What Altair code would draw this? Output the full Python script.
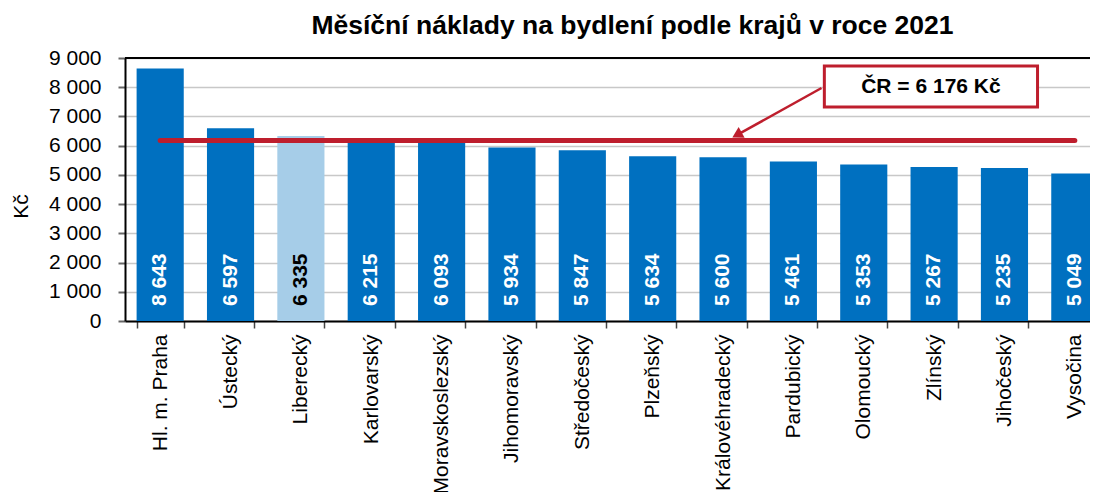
import altair as alt
import pandas as pd

regions = ["Hl. m. Praha", "Ústecký", "Liberecký", "Karlovarský", "Moravskoslezský",
           "Jihomoravský", "Středočeský", "Plzeňský", "Královéhradecký", "Pardubický",
           "Olomoucký", "Zlínský", "Jihočeský", "Vysočina"]
values = [8643, 6597, 6335, 6215, 6093, 5934, 5847, 5634, 5600, 5461, 5353, 5267, 5235, 5049]
highlight = "Liberecký"
cr_value = 6176
cr_label = "ČR = 6 176 Kč"
title_text = "Měsíční náklady na bydlení podle krajů v roce 2021"
y_title = "Kč"
y_ticks = [0, 1000, 2000, 3000, 4000, 5000, 6000, 7000, 8000, 9000]

# annotation geometry in band units (0..n) and Kč
box_x = [9.94, 12.97]
box_y = [7323, 8726]
arrow_start = [9.9, 7973]
arrow_tip = [8.72, 6396]

FONT = "Liberation Sans"
BLUE = "#0070c0"
LIGHT = "#a6cde8"
RED = "#be1e2d"
PLOT_W = 985   # full plot range (right part cropped by the window like the reference)
VIEW_W = 965
PLOT_H = 263
n = len(regions)

df = pd.DataFrame({"region": regions, "value": values})

band = alt.Scale(domain=regions, range=[0, PLOT_W], paddingInner=0.33, paddingOuter=0.165)
xq = alt.Scale(domain=[0, n], range=[0, PLOT_W], nice=False, zero=False)
yscale = alt.Scale(domain=[0, 9000], nice=False)
fmt = "replace(format(datum.value, ','), ',', ' ')"

yaxis = alt.Axis(values=y_ticks, tickCount=len(y_ticks) + 2, labelExpr=fmt, title=y_title,
                 titleFontSize=21, titleFont=FONT, titleFontWeight="normal",
                 titleColor="black", titlePadding=17, titleY=148, labelFontSize=21,
                 labelFont=FONT, labelColor="black", labelPadding=17, tickSize=7,
                 tickColor="#666", tickWidth=2, domainColor="black",
                 domainWidth=2, gridColor="#c8c8c8", gridWidth=1.5,
                 labelOverlap=False)

bars = alt.Chart(df).mark_bar().encode(
    x=alt.X("region:N", sort=regions, scale=band,
            axis=alt.Axis(title=None, labelAngle=-90, labelFontSize=21, labelFont=FONT,
                          labelColor="black", labelPadding=6, tickSize=7, tickColor="#444",
                          tickWidth=1.5, tickBand="extent", domainColor="black",
                          domainWidth=2, grid=False, labelAlign="right",
                          labelBaseline="middle", labelLimit=400, labelOverlap=False)),
    y=alt.Y("value:Q", scale=yscale, axis=yaxis),
    color=alt.condition(alt.datum.region == highlight, alt.value(LIGHT), alt.value(BLUE)),
)

labels = alt.Chart(df).transform_calculate(
    txt="replace(format(datum.value, ','), ',', ' ')"
).mark_text(angle=270, align="left", baseline="middle", dx=15, fontSize=21,
            fontWeight="bold", font=FONT).encode(
    x=alt.X("region:N", sort=regions, scale=band, axis=None),
    y=alt.Y(datum=0, scale=yscale, axis=yaxis),
    text="txt:N",
    color=alt.condition(alt.datum.region == highlight, alt.value("black"), alt.value("white")),
)

avg_df = pd.DataFrame({"x0": [0.5], "x1": [n - 0.5], "y": [cr_value]})
avg = alt.Chart(avg_df).mark_rule(strokeWidth=5, strokeCap="round", color=RED).encode(
    x=alt.X("x0:Q", scale=xq, axis=None), x2="x1:Q",
    y=alt.Y("y:Q", scale=yscale, axis=yaxis))

top_df = pd.DataFrame({"x0": [0], "x1": [n], "y": [9000]})
top = alt.Chart(top_df).mark_rule(strokeWidth=2, color="black").encode(
    x=alt.X("x0:Q", scale=xq, axis=None), x2="x1:Q",
    y=alt.Y("y:Q", scale=yscale, axis=yaxis))

arrow_df = pd.DataFrame({"x0": [arrow_start[0]], "y0": [arrow_start[1]],
                         "x1": [arrow_tip[0]], "y1": [arrow_tip[1]]})
arrow = alt.Chart(arrow_df).mark_rule(strokeWidth=2.5, color=RED).encode(
    x=alt.X("x0:Q", scale=xq, axis=None), x2="x1:Q",
    y=alt.Y("y0:Q", scale=yscale, axis=yaxis), y2="y1:Q")
head = alt.Chart(arrow_df).mark_point(shape="triangle", filled=True, size=150, angle=241,
                                      color=RED, opacity=1).encode(
    x=alt.X("x1:Q", scale=xq, axis=None), y=alt.Y("y1:Q", scale=yscale, axis=yaxis))

box_df = pd.DataFrame({"x0": [box_x[0]], "x1": [box_x[1]], "y0": [box_y[0]], "y1": [box_y[1]],
                       "xc": [(box_x[0] + box_x[1]) / 2], "yc": [(box_y[0] + box_y[1]) / 2],
                       "t": [cr_label]})
box = alt.Chart(box_df).mark_rect(fill="white", stroke=RED, strokeWidth=3).encode(
    x=alt.X("x0:Q", scale=xq, axis=None), x2="x1:Q",
    y=alt.Y("y0:Q", scale=yscale, axis=yaxis), y2="y1:Q")
box_text = alt.Chart(box_df).mark_text(fontSize=21, fontWeight="bold", font=FONT,
                                       color="black", baseline="middle").encode(
    x=alt.X("xc:Q", scale=xq, axis=None), y=alt.Y("yc:Q", scale=yscale, axis=yaxis),
    text="t:N")

chart = alt.layer(bars, labels, avg, top, arrow, head, box, box_text).resolve_scale(
    x="independent"
).properties(
    width=VIEW_W, height=PLOT_H,
    title=alt.TitleParams(title_text, fontSize=26.5, fontWeight="bold", font=FONT,
                          color="black", anchor="middle", dx=25, offset=8),
    autosize=alt.AutoSizeParams(type="none"),
    padding={"left": 117, "top": 50, "right": 0, "bottom": 171},
).configure_view(stroke=None)

chart.save("out.html", embed_options={"renderer": "svg", "actions": False})
